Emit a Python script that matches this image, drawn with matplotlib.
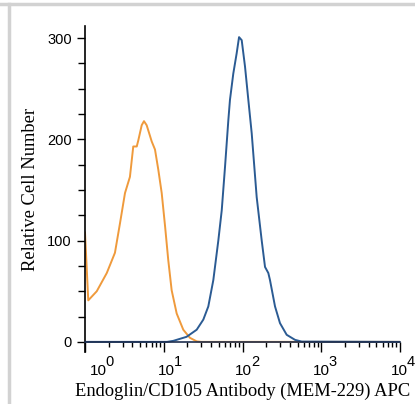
import numpy as np
import matplotlib.pyplot as plt
import matplotlib.transforms as mtransforms
from matplotlib.lines import Line2D
from matplotlib.ticker import LogLocator, MultipleLocator, NullFormatter

plt.rcParams['font.family'] = ['Liberation Sans', 'DejaVu Sans']

# isotype control (orange)
iso_x = [1.0, 1.10, 1.41, 1.89, 2.40, 2.78, 3.22, 3.72, 4.10, 4.54, 4.75, 5.25, 5.61,
         6.07, 7.03, 7.74, 8.53, 9.42, 10.4, 11.4, 12.6, 14.6, 17.7, 21.5, 26.2, 30.0, 10000]
iso_y = [108, 41, 50, 68, 88, 117, 147, 163, 193, 193, 199, 214, 218,
         214, 198, 190, 170, 147, 114, 81, 51, 28, 12, 4, 0.5, 0, 0]

# Endoglin/CD105 stained cells (blue)
endo_x = [1.0, 11.0, 13.2, 19.5, 26.2, 31.8, 36.8, 42.6, 49.3, 54.5, 60.0, 66.1, 69.3,
          76.4, 84.3, 90.4, 97.7, 107.6, 118.6, 130.9, 151.4, 175.4, 193.2, 212.8,
          223.4, 258.8, 299.2, 363.9, 464.5, 564.9, 10000]
endo_y = [0, 0, 1, 5, 12, 22, 35, 61, 100, 130, 173, 219, 239,
          265, 285, 301, 298, 272, 239, 206, 143, 100, 74, 68,
          61, 35, 18.5, 7, 2, 0.3, 0]

x_ticks = [1, 10, 100, 1000, 10000]
x_base = ['10', '10', '10', '10', '10']
x_exp = ['0', '1', '2', '3', '4']
y_ticks = [0, 100, 200, 300]

fig = plt.figure(figsize=(4.15, 4.04), dpi=100)
ax = fig.add_axes([85/415, 52/404, 315/415, 326/404])

ax.plot(iso_x, iso_y, color='#ef9a3c', lw=1.4)
ax.plot(endo_x, endo_y, color='#2b5b93', lw=1.4)

ax.set_xscale('log')
ax.set_xlim(1, 10000)
ax.set_ylim(-10, 312)

ax.spines['top'].set_visible(False)
ax.spines['right'].set_visible(False)
ax.spines['bottom'].set_position(('data', 0))
ax.spines['left'].set_linewidth(1.2)
ax.spines['bottom'].set_linewidth(1.2)
ax.spines['bottom'].set_color('#1f2f4f')

ax.set_xticks(x_ticks, labels=x_base)
ax.xaxis.set_minor_locator(LogLocator(base=10, subs=np.arange(2, 10)))
ax.xaxis.set_minor_formatter(NullFormatter())
ax.set_yticks(y_ticks)
ax.yaxis.set_minor_locator(MultipleLocator(25))

ax.tick_params(axis='x', which='major', length=7, width=1, labelsize=11, pad=9)
ax.tick_params(axis='x', which='minor', length=3.5, width=1)
ax.tick_params(axis='y', which='major', length=5.5, width=1, labelsize=10.5, pad=4)
ax.tick_params(axis='y', which='minor', length=5, width=1)

# the "10" sits near its tick, the exponent is raised just to its right
shifts = [13, 3, 1, 0, -1]
for lbl, dx in zip(ax.get_xticklabels(), shifts):
    lbl.set_transform(lbl.get_transform() + mtransforms.ScaledTranslation(dx/100, 0, fig.dpi_scale_trans))
for xt, e, dx in zip(x_ticks, x_exp, shifts):
    ax.annotate(e, xy=(xt, 0), xycoords='data', xytext=((dx + 7.5) * 0.72, -27 * 0.72),
                textcoords='offset points', ha='left', va='bottom', fontsize=10.5,
                annotation_clip=False)

ax.set_xlabel('Endoglin/CD105 Antibody (MEM-229) APC', family='Liberation Serif', fontsize=13.3, labelpad=3)
ax.set_ylabel('Relative Cell Number', family='Liberation Serif', fontsize=13.3, labelpad=6)

# frame lines of the cropped page
fig.add_artist(Line2D([0, 1], [1 - 3.5/404, 1 - 3.5/404], color='#d2d2d2', lw=2.5, transform=fig.transFigure))
fig.add_artist(Line2D([8.5/415, 8.5/415], [0, 1 - 3.5/404], color='#d2d2d2', lw=2.5, transform=fig.transFigure))

fig.savefig('out.png', dpi=100)
